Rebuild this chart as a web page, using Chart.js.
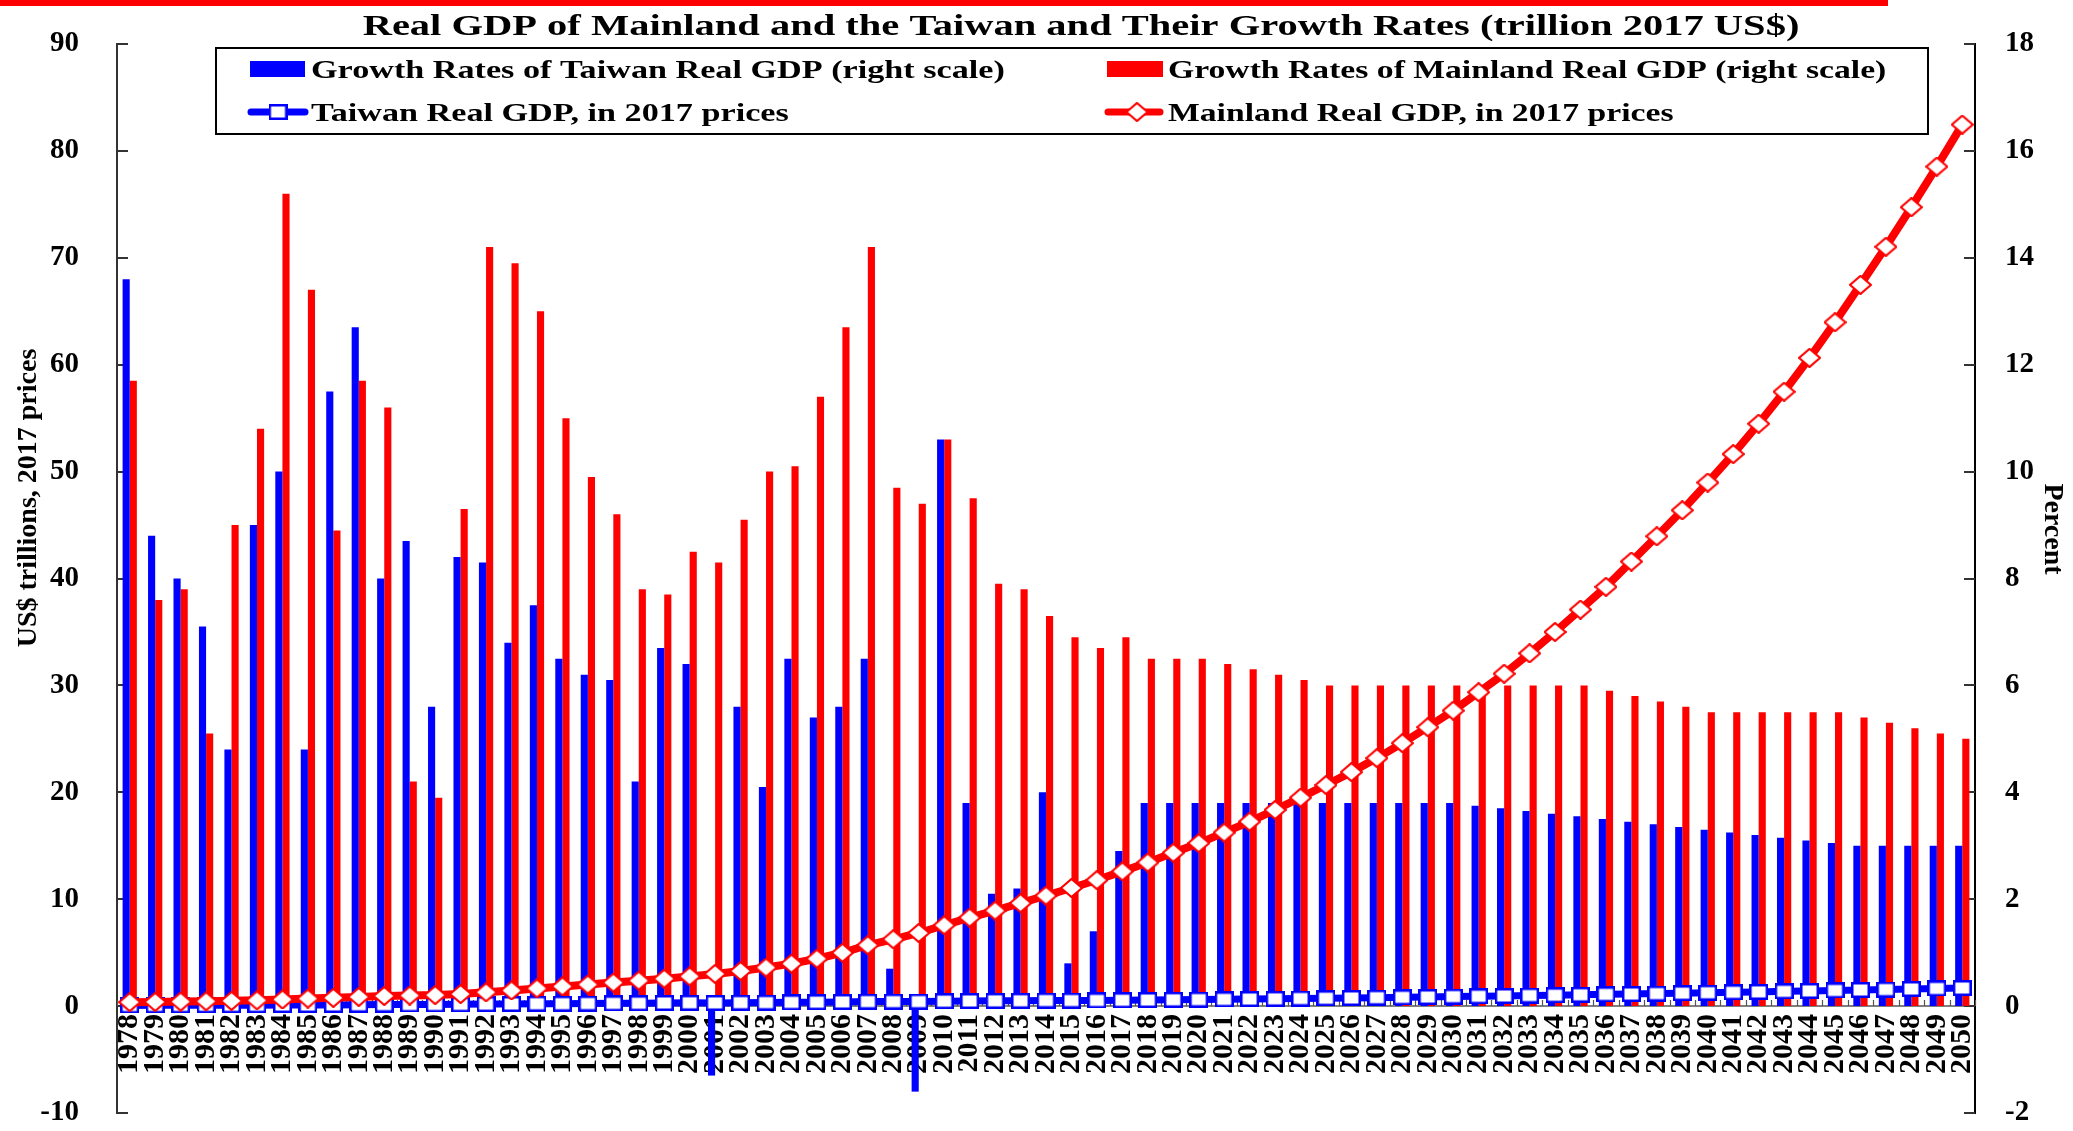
<!DOCTYPE html>
<html>
<head>
<meta charset="utf-8">
<title>Real GDP of Mainland and the Taiwan</title>
<script src="https://cdn.jsdelivr.net/npm/chart.js@4.4.1/dist/chart.umd.min.js"></script>
<style>
html, body { margin: 0; padding: 0; background: #fff; }
#wrap { position: relative; width: 2073px; height: 1131px; }
</style>
</head>
<body>
<div id="wrap"><canvas id="chart"></canvas></div>
<script>
// categories
const years = ['1978','1979','1980','1981','1982','1983','1984','1985','1986','1987',
  '1988','1989','1990','1991','1992','1993','1994','1995','1996','1997',
  '1998','1999','2000','2001','2002','2003','2004','2005','2006','2007',
  '2008','2009','2010','2011','2012','2013','2014','2015','2016','2017',
  '2018','2019','2020','2021','2022','2023','2024','2025','2026','2027',
  '2028','2029','2030','2031','2032','2033','2034','2035','2036','2037',
  '2038','2039','2040','2041','2042','2043','2044','2045','2046','2047',
  '2048','2049','2050'];

// growth rates, percent (right scale)
const twGrowth = [13.6, 8.8, 8.0, 7.1, 4.8, 9.0, 10.0, 4.8, 11.5, 12.7,
  8.0, 8.7, 5.6, 8.4, 8.3, 6.8, 7.5, 6.5, 6.2, 6.1,
  4.2, 6.7, 6.4, -1.3, 5.6, 4.1, 6.5, 5.4, 5.6, 6.5,
  0.7, -1.6, 10.6, 3.8, 2.1, 2.2, 4.0, 0.8, 1.4, 2.9,
  3.8, 3.8, 3.8, 3.8, 3.8, 3.8, 3.8, 3.8, 3.8, 3.8,
  3.8, 3.8, 3.8, 3.75, 3.7, 3.65, 3.6, 3.55, 3.5, 3.45,
  3.4, 3.35, 3.3, 3.25, 3.2, 3.15, 3.1, 3.05, 3.0, 3.0,
  3.0, 3.0, 3.0];
const cnGrowth = [11.7, 7.6, 7.8, 5.1, 9.0, 10.8, 15.2, 13.4, 8.9, 11.7,
  11.2, 4.2, 3.9, 9.3, 14.2, 13.9, 13.0, 11.0, 9.9, 9.2,
  7.8, 7.7, 8.5, 8.3, 9.1, 10.0, 10.1, 11.4, 12.7, 14.2,
  9.7, 9.4, 10.6, 9.5, 7.9, 7.8, 7.3, 6.9, 6.7, 6.9,
  6.5, 6.5, 6.5, 6.4, 6.3, 6.2, 6.1, 6.0, 6.0, 6.0,
  6.0, 6.0, 6.0, 6.0, 6.0, 6.0, 6.0, 6.0, 5.9, 5.8,
  5.7, 5.6, 5.5, 5.5, 5.5, 5.5, 5.5, 5.5, 5.4, 5.3,
  5.2, 5.1, 5.0];

// real GDP, trillion 2017 US$ (left scale)
const twGDP = [0.06, 0.07, 0.07, 0.08, 0.08, 0.09, 0.10, 0.10, 0.11, 0.13,
  0.14, 0.15, 0.16, 0.17, 0.19, 0.20, 0.22, 0.23, 0.24, 0.26,
  0.27, 0.29, 0.31, 0.30, 0.32, 0.33, 0.35, 0.37, 0.39, 0.42,
  0.42, 0.42, 0.46, 0.48, 0.49, 0.50, 0.52, 0.52, 0.53, 0.55,
  0.57, 0.59, 0.61, 0.63, 0.66, 0.68, 0.71, 0.74, 0.76, 0.79,
  0.82, 0.85, 0.89, 0.92, 0.95, 0.99, 1.02, 1.06, 1.10, 1.13,
  1.17, 1.21, 1.25, 1.29, 1.33, 1.38, 1.42, 1.46, 1.51, 1.55,
  1.60, 1.65, 1.69];
const cnGDP = [0.37, 0.39, 0.42, 0.45, 0.49, 0.54, 0.62, 0.70, 0.77, 0.86,
  0.95, 0.99, 1.03, 1.13, 1.29, 1.46, 1.65, 1.84, 2.02, 2.20,
  2.38, 2.56, 2.78, 3.01, 3.28, 3.61, 3.97, 4.43, 4.99, 5.70,
  6.25, 6.84, 7.56, 8.28, 8.93, 9.63, 10.33, 11.05, 11.79, 12.6,
  13.43, 14.34, 15.24, 16.23, 17.26, 18.35, 19.5, 20.68, 21.89, 23.2,
  24.6, 26.09, 27.64, 29.36, 31.09, 33.0, 35.0, 37.09, 39.22, 41.59,
  43.95, 46.38, 48.98, 51.64, 54.48, 57.47, 60.64, 63.97, 67.47, 71.03,
  74.73, 78.53, 82.46];

const leftTicks = [-10, 90, 10];
const rightTicks = [-2, 18, 2];

const titleText = 'Real GDP of Mainland and the Taiwan and Their Growth Rates (trillion 2017 US$)';
const leftTitle = 'US$ trillions, 2017 prices';
const rightTitle = 'Percent';

const FONT = '"Liberation Serif", "Times New Roman", serif';
const BLUE = '#0000ff';
const RED = '#ff0000';

// markers are a bit wider than tall, like the source picture
function squareMarker(w, h, color) {
    const c = document.createElement('canvas');
    c.width = w; c.height = h;
    const g = c.getContext('2d');
    g.fillStyle = '#fff';
    g.fillRect(0, 0, w, h);
    g.strokeStyle = color;
    g.lineWidth = 2.5;
    g.strokeRect(1.25, 1.25, w - 2.5, h - 2.5);
    return c;
}
function diamondMarker(w, h, color) {
    const c = document.createElement('canvas');
    c.width = w; c.height = h;
    const g = c.getContext('2d');
    g.beginPath();
    g.moveTo(w / 2, 1);
    g.lineTo(w - 1, h / 2);
    g.lineTo(w / 2, h - 1);
    g.lineTo(1, h / 2);
    g.closePath();
    g.fillStyle = '#fff';
    g.fill();
    g.strokeStyle = color;
    g.lineWidth = 2.2;
    g.stroke();
    return c;
}
const twMarker = squareMarker(19, 16, BLUE);
const cnMarker = diamondMarker(23, 20, RED);

// text stretched sideways
function wideText(ctx, text, x, y, size, sx, align) {
    ctx.save();
    ctx.translate(x, y);
    ctx.scale(sx, 1);
    ctx.font = 'bold ' + size + 'px ' + FONT;
    ctx.fillStyle = '#000';
    ctx.textAlign = align;
    ctx.textBaseline = 'alphabetic';
    ctx.fillText(text, 0, 0);
    ctx.restore();
}
function turnedText(ctx, text, x, y, size, angle) {
    ctx.save();
    ctx.translate(x, y);
    ctx.rotate(angle);
    ctx.font = 'bold ' + size + 'px ' + FONT;
    ctx.fillStyle = '#000';
    ctx.textAlign = 'center';
    ctx.textBaseline = 'middle';
    ctx.fillText(text, 0, 0);
    ctx.restore();
}

const decor = {
    id: 'decor',
    beforeDatasetsDraw(chart) {
        const {ctx, chartArea: a, scales} = chart;
        ctx.save();
        ctx.strokeStyle = '#333';
        ctx.lineWidth = 2;
        ctx.beginPath();
        scales.y.ticks.forEach(t => {
            const py = Math.round(scales.y.getPixelForValue(t.value));
            ctx.moveTo(a.left, py); ctx.lineTo(a.left + 11, py);
        });
        scales.y1.ticks.forEach(t => {
            const py = Math.round(scales.y1.getPixelForValue(t.value));
            ctx.moveTo(a.right - 11, py); ctx.lineTo(a.right, py);
        });
        ctx.stroke();
        // small marks between categories on the zero line
        const y0 = scales.y.getPixelForValue(0);
        const step = scales.x.getPixelForValue(1) - scales.x.getPixelForValue(0);
        ctx.lineWidth = 1.2;
        ctx.strokeStyle = '#555';
        ctx.beginPath();
        for (let i = 0; i <= years.length; i++) {
            const px = Math.round(scales.x.getPixelForValue(0) + (i - 0.5) * step) + 0.5;
            ctx.moveTo(px, y0 - 6); ctx.lineTo(px, y0);
        }
        ctx.stroke();
        ctx.restore();
    },
    afterDraw(chart) {
        const ctx = chart.ctx;
        const ds = chart.data.datasets;
        ctx.save();
        // red rule at the very top
        ctx.fillStyle = RED;
        ctx.fillRect(0, 0, 1888, 6);

        wideText(ctx, titleText, 1081, 35, 30, 1.35, 'center');

        // legend box
        ctx.strokeStyle = '#000';
        ctx.lineWidth = 2;
        ctx.strokeRect(216, 48, 1712, 86);

        ctx.fillStyle = BLUE;
        ctx.fillRect(250, 61, 55, 16);
        wideText(ctx, ds[0].label, 311, 78, 25.5, 1.34, 'left');
        ctx.fillStyle = RED;
        ctx.fillRect(1107, 61, 56, 16);
        wideText(ctx, ds[1].label, 1168, 78, 25.5, 1.32, 'left');

        ctx.lineCap = 'round';
        ctx.lineWidth = 7;
        ctx.strokeStyle = BLUE;
        ctx.beginPath(); ctx.moveTo(251, 112); ctx.lineTo(305, 112); ctx.stroke();
        ctx.drawImage(twMarker, 278 - 9.5, 112 - 8);
        wideText(ctx, ds[2].label, 311, 121, 25.5, 1.34, 'left');
        ctx.strokeStyle = RED;
        ctx.beginPath(); ctx.moveTo(1108, 112); ctx.lineTo(1160, 112); ctx.stroke();
        ctx.drawImage(cnMarker, 1137 - 11.5, 112 - 10);
        wideText(ctx, ds[3].label, 1168, 121, 25.5, 1.32, 'left');

        turnedText(ctx, leftTitle, 29, 498, 28, -Math.PI / 2);
        turnedText(ctx, rightTitle, 2052, 529, 28, Math.PI / 2);
        ctx.restore();
    }
};

const tickFont = {family: FONT, size: 29, weight: 'bold'};

new Chart(document.getElementById('chart'), {
    type: 'bar',
    data: {
        labels: years,
        datasets: [{
                label: 'Growth Rates of Taiwan Real GDP (right scale)',
                data: twGrowth,
                yAxisID: 'y1',
                backgroundColor: BLUE,
                borderWidth: 0,
                categoryPercentage: 0.56,
                barPercentage: 1.0,
                order: 2
            },
            {
                label: 'Growth Rates of Mainland Real GDP (right scale)',
                data: cnGrowth,
                yAxisID: 'y1',
                backgroundColor: RED,
                borderWidth: 0,
                categoryPercentage: 0.56,
                barPercentage: 1.0,
                order: 2
            },
            {
                type: 'line',
                label: 'Taiwan Real GDP, in 2017 prices',
                data: twGDP,
                yAxisID: 'y',
                borderColor: BLUE,
                borderWidth: 7,
                tension: 0,
                pointStyle: twMarker,
                pointRadius: 9,
                order: 1
            },
            {
                type: 'line',
                label: 'Mainland Real GDP, in 2017 prices',
                data: cnGDP,
                yAxisID: 'y',
                borderColor: RED,
                borderWidth: 8,
                tension: 0,
                pointStyle: cnMarker,
                pointRadius: 10,
                order: 0
            }
        ]
    },
    options: {
        responsive: true,
        maintainAspectRatio: false,
        animation: false,
        events: [],
        layout: {padding: {left: 0, right: 0, top: 44, bottom: 14}},
        plugins: {
            legend: {display: false},
            tooltip: {enabled: false}
        },
        scales: {
            x: {
                type: 'category',
                position: {y: 0},
                offset: true,
                grid: {display: false, drawTicks: false},
                border: {display: true, color: '#7f7f7f', width: 2},
                ticks: {
                    autoSkip: false,
                    minRotation: 90,
                    maxRotation: 90,
                    padding: 8,
                    color: '#000',
                    font: {family: FONT, size: 30, weight: 'bold'}
                },
                afterFit(s) {
                    s.paddingLeft = 0; s.paddingRight = 0;
                    s.paddingTop = 0; s.paddingBottom = 0;
                }
            },
            y: {
                position: 'left',
                min: leftTicks[0],
                max: leftTicks[1],
                ticks: {stepSize: leftTicks[2], padding: 38, color: '#000', font: tickFont},
                grid: {display: false, drawTicks: false},
                border: {display: true, color: '#333', width: 2},
                afterFit(s) { s.width = 117; s.paddingTop = 0; s.paddingBottom = 0; }
            },
            y1: {
                position: 'right',
                min: rightTicks[0],
                max: rightTicks[1],
                ticks: {stepSize: rightTicks[2], padding: 30, color: '#000', font: tickFont},
                grid: {display: false, drawTicks: false},
                border: {display: true, color: '#000', width: 2},
                afterFit(s) { s.width = 98; s.paddingTop = 0; s.paddingBottom = 0; }
            }
        }
    },
    plugins: [decor]
});
</script>
</body>
</html>
